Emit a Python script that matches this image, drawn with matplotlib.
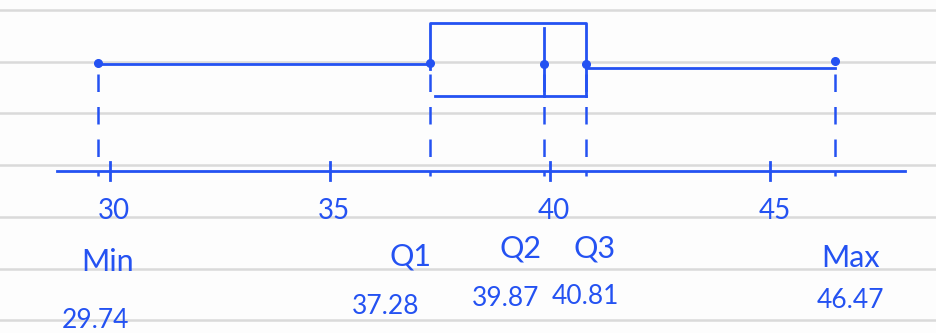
import numpy as np
import matplotlib.pyplot as plt

# five-number summary
stat_names = ['Min', 'Q1', 'Q2', 'Q3', 'Max']
stat_values = [29.74, 37.28, 39.87, 40.81, 46.47]
stat_labels = ['29.74', '37.28', '39.87', '40.81', '46.47']
tick_values = [30, 35, 40, 45]
tick_labels = ['30', '35', '40', '45']

BLUE = '#2452f2'
GRID = '#dadada'
FONT = 'Lato'

fig = plt.figure(figsize=(9.36, 3.33), dpi=100)
fig.patch.set_facecolor('#fdfdfd')
ax = fig.add_axes([0, 0, 1, 1])
ax.set_facecolor('#fdfdfd')
ax.set_xlim(27.51, 48.76)
ax.set_ylim(333, 0)
ax.axis('off')

# ruled paper
for y in np.arange(10, 333, 51.7):
    ax.axhline(y, color=GRID, lw=1.8, zorder=0)

mn, q1, q2, q3, mx = stat_values
whisker_y = 64
box_top, box_bot = 23, 96
axis_y = 171
lw = 2.0

# box
ax.plot([q1, q1, q3, q3], [whisker_y + 5, box_top, box_top, box_bot], color=BLUE, lw=lw)
ax.plot([q1 + 0.1, q3], [box_bot, box_bot], color=BLUE, lw=lw)
ax.plot([q2, q2], [box_top + 5, box_bot], color=BLUE, lw=lw)

# whiskers
ax.plot([mn, q1], [whisker_y, whisker_y], color=BLUE, lw=lw)
ax.plot([q3, mx], [whisker_y + 4, whisker_y + 4], color=BLUE, lw=lw)

# dots
ax.plot(stat_values, [whisker_y - 1, whisker_y - 1, whisker_y, whisker_y, whisker_y - 3],
        'o', color=BLUE, ms=5.5, zorder=3)

# dashed drop lines to the axis
for v in stat_values:
    ax.plot([v, v], [whisker_y + 10, axis_y + 5], color=BLUE, lw=1.8,
            linestyle=(0, (7, 6)), solid_capstyle='round')

# number line
ax.axhline(axis_y, xmin=0.061, xmax=0.967, color=BLUE, lw=lw)
for t, lab in zip(tick_values, tick_labels):
    ax.plot([t, t], [axis_y - 9, axis_y + 9], color=BLUE, lw=lw)
    ax.annotate(lab, (t, 211), xytext=(4, 0), textcoords='offset pixels',
                color=BLUE, fontsize=20, ha='center', va='center', family=FONT)

# labels under the axis (nudged like the handwriting)
name_y = [262, 256, 248, 248, 258]
name_dx = [9, -20, -24, 9, 15]
value_y = [320, 307, 299, 296, 301]
value_dx = [-3, -45, -39, 0, 15]
for v, name, lab, ny, ndx, vy, vdx in zip(stat_values, stat_names, stat_labels,
                                           name_y, name_dx, value_y, value_dx):
    ax.annotate(name, (v, ny), xytext=(ndx, 0), textcoords='offset pixels',
                color=BLUE, fontsize=22, ha='center', va='center', family=FONT)
    ax.annotate(lab, (v, vy), xytext=(vdx, 0), textcoords='offset pixels',
                color=BLUE, fontsize=19, ha='center', va='center', family=FONT)

fig.savefig('out.png', dpi=100, facecolor=fig.get_facecolor())
